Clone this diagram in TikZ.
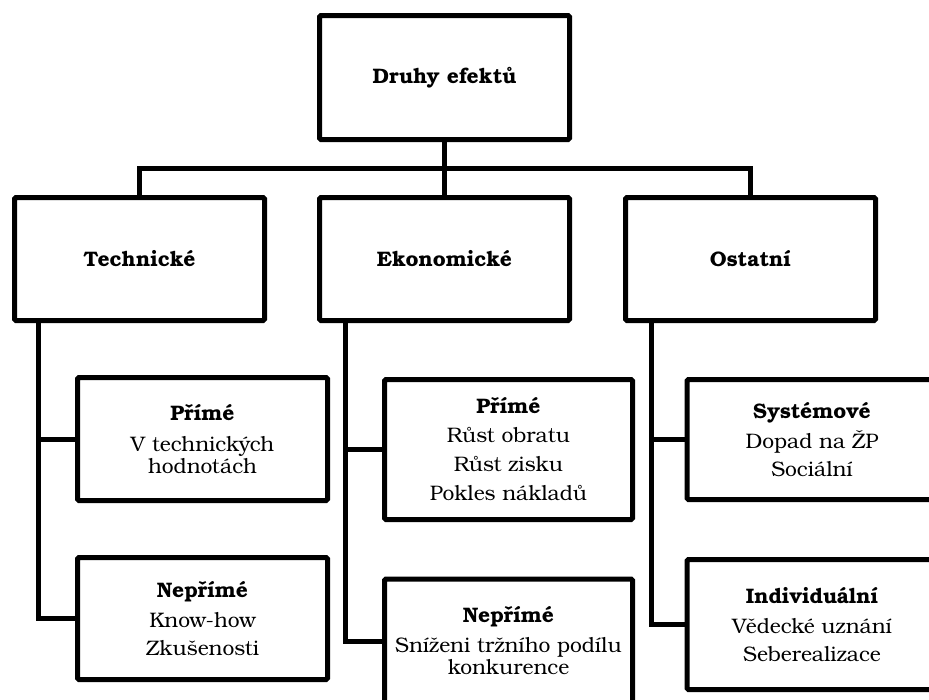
\documentclass[tikz,border=0pt]{standalone}
\usepackage{fontspec}
\setmainfont{texgyrebonum}[Extension=.otf, UprightFont=*-regular, BoldFont=*-bold]
\begin{document}
\begin{tikzpicture}[x=1pt,y=-1pt,
  box/.style={draw=black, line width=5pt, rounded corners=1.5pt, inner sep=0pt,
    minimum width=250pt, align=center, font=\fontsize{21}{22}\selectfont},
  conn/.style={draw=black, line width=5pt}]
\useasboundingbox (0,0) rectangle (929,699);
\clip (0,0) rectangle (929,699);
% level 0
\node[box, minimum height=124pt] (top) at (444.5,77.5) {\bfseries Druhy efektů};
% level 1
\node[box, minimum height=123pt] (tech) at (139.5,259) {\bfseries Technické};
\node[box, minimum height=123pt] (eko) at (444.5,259) {\bfseries Ekonomické};
\node[box, minimum height=123pt] (ost) at (750.5,259) {\bfseries Ostatní};
% level 2
\node[box, minimum height=123pt] (tp) at (202.5,439)
  {\textbf{Přímé}\\[9pt]V technických\\hodnotách};
\node[box, minimum height=122pt] (tn) at (202.5,618.5)
  {\textbf{Nepřímé}\\[8pt]Know-how\\[6pt]Zkušenosti};
\node[box, minimum height=140pt, minimum width=248pt] (ep) at (508.5,449.5)
  {\textbf{Přímé}\\[7pt]Růst obratu\\[7pt]Růst zisku\\[7pt]Pokles nákladů};
\node[box, minimum height=124pt, minimum width=248pt] (en) at (508.5,641)
  {\textbf{Nepřímé}\\[8pt]Sníženi tržního podílu\\konkurence};
\node[box, minimum height=120pt] (os) at (812,439.5)
  {\textbf{Systémové}\\[7pt]Dopad na ŽP\\[6pt]Sociální};
\node[box, minimum height=130pt] (oi) at (812,624.5)
  {\textbf{Individuální}\\[8pt]Vědecké uznání\\[6pt]Seberealizace};
% connectors
\coordinate (bar) at (444.5,168);
\draw[conn] (top.south) -- (eko.north);
\draw[conn] (tech.north) |- (bar) -| (ost.north);
\coordinate (tv) at (38,320.5);
\coordinate (ev) at (345,320.5);
\coordinate (ov) at (651,320.5);
\draw[conn] (tv) |- (tn.west);
\draw[conn] (tv |- tp.west) -- (tp.west);
\draw[conn] (ev) |- (en.west);
\draw[conn] (ev |- ep.west) -- (ep.west);
\draw[conn] (ov) |- (oi.west);
\draw[conn] (ov |- os.west) -- (os.west);
\end{tikzpicture}
\end{document}
